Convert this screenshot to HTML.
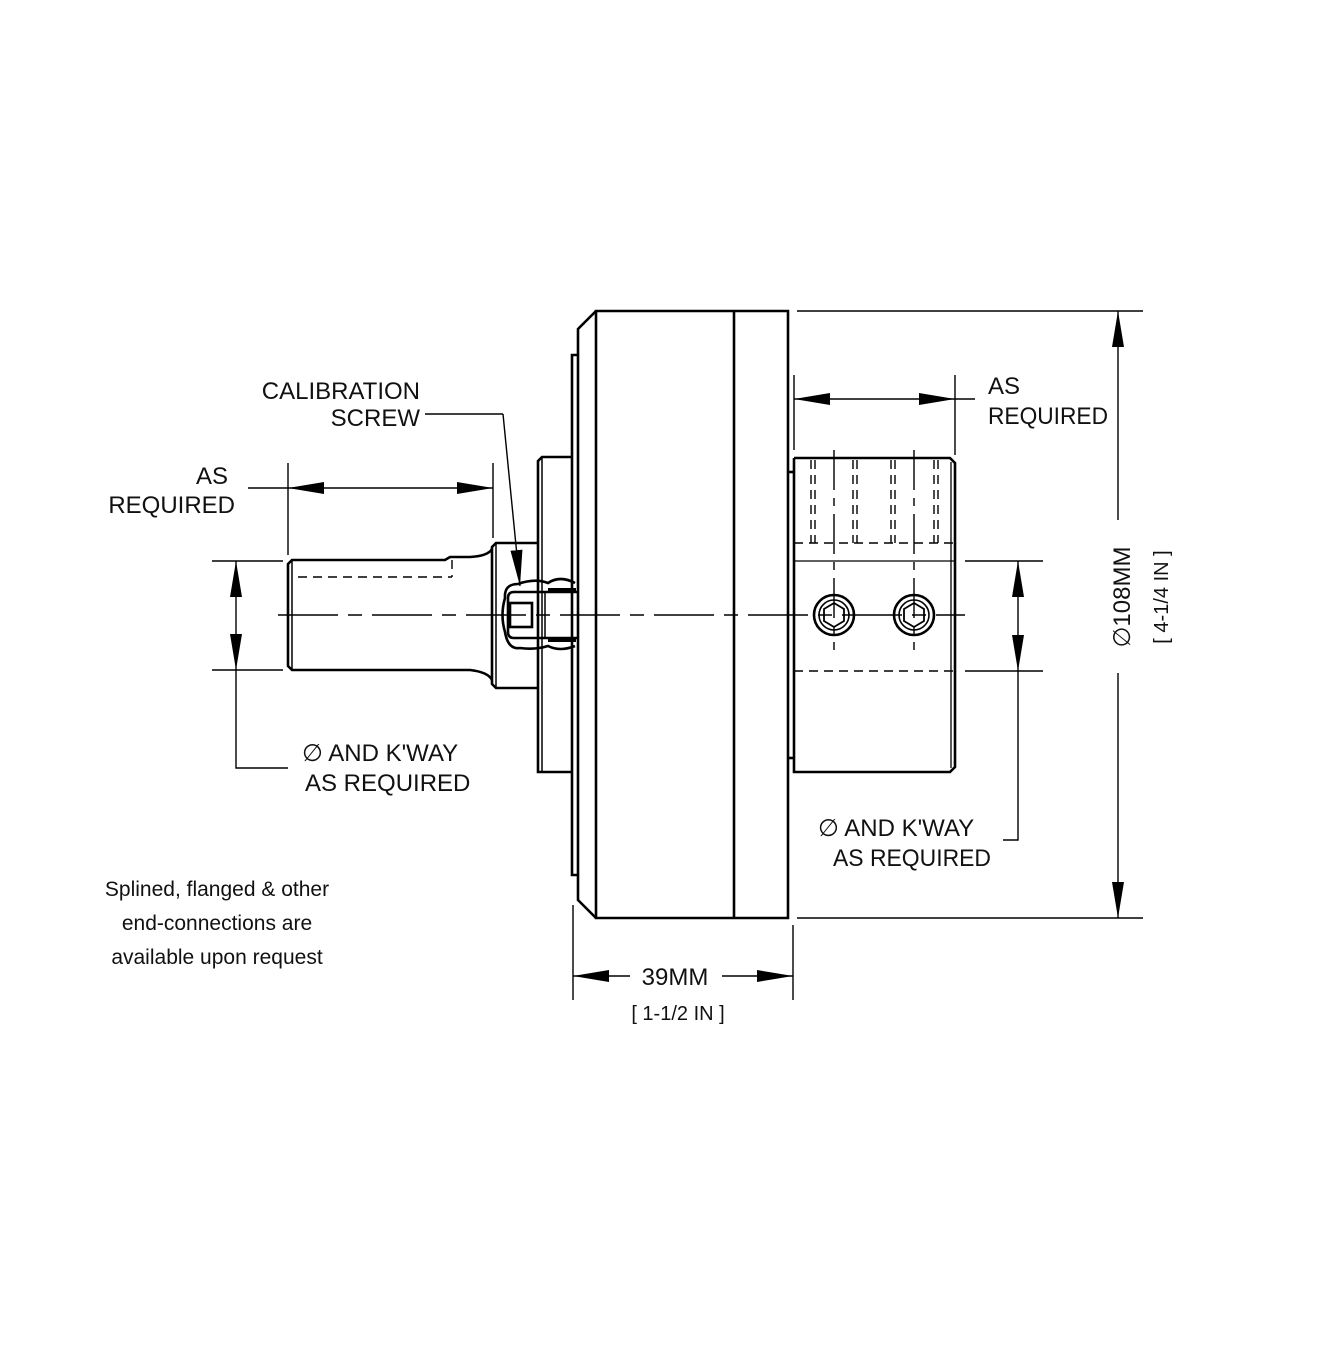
<!DOCTYPE html>
<html><head><meta charset="utf-8"><style>
html,body{margin:0;padding:0;background:#fff;}
svg{display:block;}
text{font-family:"Liberation Sans",sans-serif;fill:#111;}
</style></head><body>
<svg width="1323" height="1352" viewBox="0 0 1323 1352" xmlns="http://www.w3.org/2000/svg">
<defs>
<marker id="a" markerWidth="36" markerHeight="12" refX="36" refY="6" orient="auto" markerUnits="userSpaceOnUse"><path d="M0,0 L36,6 L0,12 Z" fill="#000"/></marker>
</defs>
<g fill="none" stroke="#000" stroke-width="2.6">
<path d="M596,311 L788,311 L788,918 L596,918 Z"/>
<path d="M596,311 L578,329 L578,900 L596,918"/>
<line x1="734" y1="311" x2="734" y2="918"/>
<path d="M578,355 L572,355 L572,875 L578,875"/>
<path d="M572,457 L542,457 L538,461 L538,772 L572,772"/>
<line x1="542" y1="457" x2="542" y2="772" stroke-width="1.5"/>
<path d="M538,543 L496,543 L492,547 L492,684 L496,688 L538,688"/>
<line x1="496" y1="543" x2="496" y2="688" stroke-width="1.5"/>
<path d="M492,549 Q488,556 470,557 L450,557 L445,560 L292,560 L288,564 L288,666 L292,670 L470,670 Q488,672 492,680"/>
<line x1="292" y1="560" x2="292" y2="670" stroke-width="1.5"/>
<path d="M575,583 Q560,575 548,583 Q535,578 518,584 Q504,584 505,598 Q500,615 505,632 Q508,650 520,648 Q535,650 548,646 Q560,652 575,646"/>
<path d="M578,592 L514,592 Q508,592 508,598 L508,632 Q508,638 514,638 L578,638"/>
<rect x="510" y="603" width="22" height="24"/>
<line x1="545" y1="592" x2="545" y2="638" stroke-width="1.5"/>
<line x1="548" y1="590" x2="576" y2="590" stroke-width="4"/>
<line x1="548" y1="640" x2="576" y2="640" stroke-width="4"/>
<path d="M794,458 L950,458 L955,463 L955,767 L950,772 L794,772 L794,458"/>
<line x1="951" y1="462" x2="951" y2="768" stroke-width="1.3"/>
<line x1="788" y1="472" x2="794" y2="472"/>
<line x1="788" y1="758" x2="794" y2="758"/>
<line x1="794" y1="561" x2="955" y2="561" stroke-width="1.3"/>
<circle cx="834" cy="615" r="20"/><circle cx="834" cy="615" r="15" stroke-width="1.6"/>
<polygon points="834,603 844,609 844,621 834,627 824,621 824,609" stroke-width="1.8"/>
<circle cx="914" cy="615" r="20"/><circle cx="914" cy="615" r="15" stroke-width="1.6"/>
<polygon points="914,603 924,609 924,621 914,627 904,621 904,609" stroke-width="1.8"/>
</g>
<g fill="none" stroke="#000" stroke-width="1.4" stroke-dasharray="9,6">
<line x1="794" y1="543" x2="955" y2="543"/>
<line x1="794" y1="671" x2="955" y2="671"/>
<line x1="965" y1="671" x2="1043" y2="671" stroke-dasharray="none"/>
<line x1="811" y1="460" x2="811" y2="543"/><line x1="815" y1="460" x2="815" y2="543"/>
<line x1="853" y1="460" x2="853" y2="543"/><line x1="857" y1="460" x2="857" y2="543"/>
<line x1="891" y1="460" x2="891" y2="543"/><line x1="895" y1="460" x2="895" y2="543"/>
<line x1="934" y1="460" x2="934" y2="543"/><line x1="938" y1="460" x2="938" y2="543"/>
<line x1="298" y1="577" x2="452" y2="577"/>
<line x1="452" y1="560" x2="452" y2="577"/>
</g>
<g fill="none" stroke="#000" stroke-width="1.4">
<line x1="278" y1="615" x2="965" y2="615" stroke-dasharray="60,10,14,10"/>
<line x1="834" y1="450" x2="834" y2="650" stroke-dasharray="40,8,8,8"/>
<line x1="914" y1="450" x2="914" y2="650" stroke-dasharray="40,8,8,8"/>
<line x1="797" y1="311" x2="1143" y2="311"/>
<line x1="797" y1="918" x2="1143" y2="918"/>
<line x1="1118" y1="520" x2="1118" y2="311" marker-end="url(#a)"/>
<line x1="1118" y1="673" x2="1118" y2="918" marker-end="url(#a)"/>
<line x1="794" y1="375" x2="794" y2="450"/>
<line x1="955" y1="375" x2="955" y2="455"/>
<line x1="875" y1="399" x2="794" y2="399" marker-end="url(#a)"/>
<line x1="875" y1="399" x2="955" y2="399" marker-end="url(#a)"/>
<line x1="955" y1="399" x2="975" y2="399"/>
<line x1="965" y1="561" x2="1043" y2="561"/>
<line x1="1018" y1="615" x2="1018" y2="561" marker-end="url(#a)"/>
<line x1="1018" y1="615" x2="1018" y2="671" marker-end="url(#a)"/>
<polyline points="1018,671 1018,840 1003,840"/>
<line x1="212" y1="561" x2="283" y2="561"/>
<line x1="212" y1="670" x2="283" y2="670"/>
<line x1="236" y1="615" x2="236" y2="561" marker-end="url(#a)"/>
<line x1="236" y1="615" x2="236" y2="670" marker-end="url(#a)"/>
<polyline points="236,670 236,768 288,768"/>
<line x1="288" y1="463" x2="288" y2="555"/>
<line x1="493" y1="463" x2="493" y2="538"/>
<line x1="390" y1="488" x2="288" y2="488" marker-end="url(#a)"/>
<line x1="390" y1="488" x2="493" y2="488" marker-end="url(#a)"/>
<line x1="248" y1="488" x2="288" y2="488"/>
<polyline points="425,414 503,414"/>
<line x1="503" y1="414" x2="520" y2="586" marker-end="url(#a)"/>
<line x1="573" y1="905" x2="573" y2="1000"/>
<line x1="793" y1="925" x2="793" y2="1000"/>
<line x1="630" y1="976" x2="573" y2="976" marker-end="url(#a)"/>
<line x1="722" y1="976" x2="793" y2="976" marker-end="url(#a)"/>
</g>
<g font-size="24">
<text x="420" y="399" text-anchor="end">CALIBRATION</text>
<text x="420" y="426" text-anchor="end">SCREW</text>
<text x="228" y="484" text-anchor="end">AS</text>
<text x="235" y="513" text-anchor="end">REQUIRED</text>
<text x="988" y="394">AS</text>
<text x="988" y="424" textLength="120" lengthAdjust="spacingAndGlyphs">REQUIRED</text>
<text x="302" y="761">∅ AND K'WAY</text>
<text x="305" y="791">AS REQUIRED</text>
<text x="818" y="836">∅ AND K'WAY</text>
<text x="833" y="866" textLength="158" lengthAdjust="spacingAndGlyphs">AS REQUIRED</text>
<text x="675" y="985" text-anchor="middle">39MM</text>
<text x="678" y="1020" text-anchor="middle" font-size="20">[ 1-1/2 IN ]</text>
<text transform="translate(1130,597) rotate(-90)" text-anchor="middle">∅108MM</text>
<text transform="translate(1168,597) rotate(-90)" text-anchor="middle" font-size="20">[ 4-1/4 IN ]</text>
</g>
<g font-size="21" text-anchor="middle">
<text x="217" y="896">Splined, flanged &amp; other</text>
<text x="217" y="930">end-connections are</text>
<text x="217" y="964">available upon request</text>
</g>
</svg>
</body></html>
